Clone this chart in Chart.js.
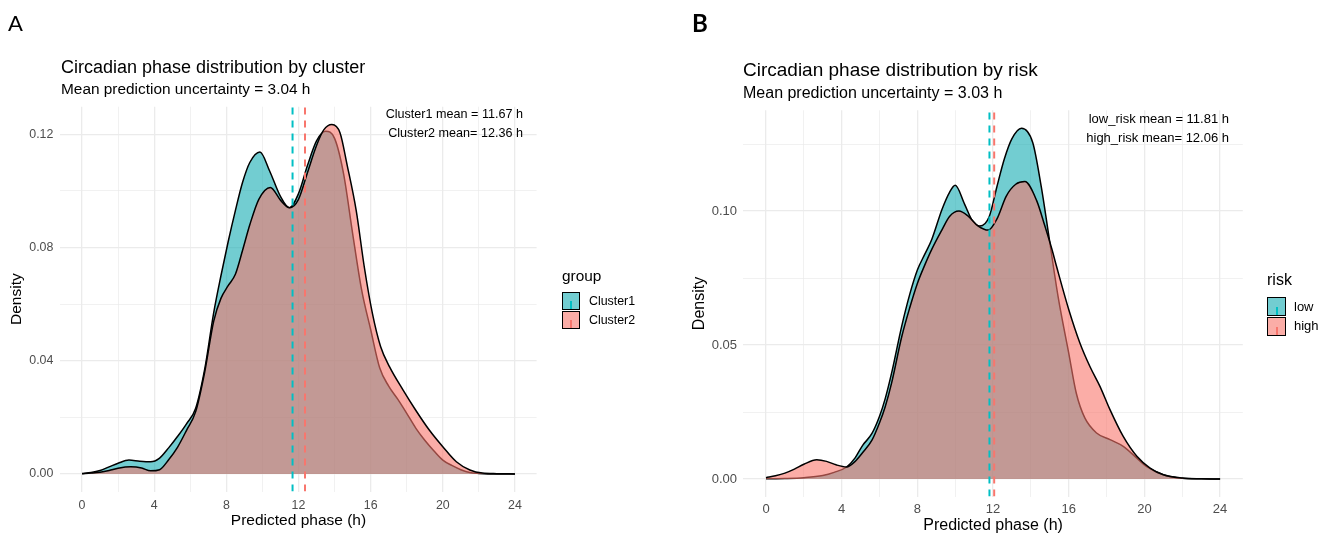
<!DOCTYPE html>
<html>
<head>
<meta charset="utf-8">
<title>Circadian phase distribution</title>
<script src="https://cdn.jsdelivr.net/npm/chart.js@4.4.1/dist/chart.umd.min.js"></script>
<style>
  body { margin: 0; background: #fff; font-family: "Liberation Sans", Arial, sans-serif; }
  #wrap { position: relative; width: 1332px; height: 538px; overflow: hidden; }
  canvas { position: absolute; top: 0; }
  .t { position: absolute; white-space: nowrap; color: #000; }
  .panel { font-family: Lato, "Open Sans", sans-serif; }
  .key { position: absolute; box-sizing: border-box; border: 1.6px solid #000; }
  .key i { position: absolute; left: 50%; width: 2px; margin-left: -1px; top: 50%; bottom: 0; }
</style>
</head>
<body>
<div id="wrap">
  <canvas id="chartA" width="660" height="538" style="left:0"></canvas>
  <canvas id="chartB" width="666" height="538" style="left:666px"></canvas>

  <!-- panel A text -->
  <div class="t panel" style="left:8px;top:11px;font-size:22px;line-height:24px">A</div>
  <div class="t" style="left:61px;top:56px;font-size:18px;line-height:22px">Circadian phase distribution by cluster</div>
  <div class="t" style="left:61px;top:79px;font-size:15.4px;line-height:20px">Mean prediction uncertainty = 3.04 h</div>
  <div class="t" style="right:809px;top:106px;font-size:12.6px;line-height:16px;text-align:right">Cluster1 mean = 11.67 h</div>
  <div class="t" style="right:809px;top:125px;font-size:12.6px;line-height:16px;text-align:right">Cluster2 mean= 12.36 h</div>
  <div class="t" style="left:562px;top:266px;font-size:15.4px;line-height:20px">group</div>
  <div class="key" style="left:562px;top:292px;width:18px;height:18px;background:rgba(20,172,178,0.6)"><i style="background:#00BFC4"></i></div>
  <div class="key" style="left:562px;top:311px;width:18px;height:18px;background:rgba(248,118,109,0.6)"><i style="background:#F8766D"></i></div>
  <div class="t" style="left:589px;top:293px;font-size:12.4px;line-height:16px">Cluster1</div>
  <div class="t" style="left:589px;top:312px;font-size:12.4px;line-height:16px">Cluster2</div>

  <!-- panel B text -->
  <div class="t panel" style="left:692px;top:10px;font-size:24px;line-height:26px;font-weight:700">B</div>
  <div class="t" style="left:743px;top:59px;font-size:19px;line-height:22px">Circadian phase distribution by risk</div>
  <div class="t" style="left:743px;top:83px;font-size:16px;line-height:20px">Mean prediction uncertainty = 3.03 h</div>
  <div class="t" style="right:103px;top:111px;font-size:13px;line-height:16px;text-align:right">low_risk mean = 11.81 h</div>
  <div class="t" style="right:103px;top:130px;font-size:13px;line-height:16px;text-align:right">high_risk mean= 12.06 h</div>
  <div class="t" style="left:1267px;top:270px;font-size:16px;line-height:20px">risk</div>
  <div class="key" style="left:1267px;top:297px;width:19px;height:19px;background:rgba(20,172,178,0.6)"><i style="background:#00BFC4"></i></div>
  <div class="key" style="left:1267px;top:317px;width:19px;height:19px;background:rgba(248,118,109,0.6)"><i style="background:#F8766D"></i></div>
  <div class="t" style="left:1294px;top:299px;font-size:13px;line-height:16px">low</div>
  <div class="t" style="left:1294px;top:318px;font-size:13px;line-height:16px">high</div>
</div>

<script>
// ---------- data ----------
const phaseTicks = [0, 4, 8, 12, 16, 20, 24];
const densityTicksA = [0, 0.04, 0.08, 0.12];
const densityTicksB = [0, 0.05, 0.10];

// panel A: by cluster
const cluster1Phase = [0, 0.5, 1, 1.5, 2, 2.6, 3.2, 3.8, 4.3, 4.8, 5.3, 5.8, 6.3, 6.8, 7.3, 7.7, 8.1, 8.5, 8.9, 9.3,
  9.86, 10.4, 11, 11.5, 12, 12.5, 13, 13.5, 14, 14.5, 15, 15.5, 16, 16.5, 17, 17.5, 18, 18.5, 19, 19.5,
  20, 20.5, 21, 21.5, 22, 23, 24];
const cluster1Density = [0.0002, 0.0005, 0.0012, 0.0025, 0.0038, 0.0049, 0.0045, 0.0043, 0.0056, 0.0092,
  0.0133, 0.0178, 0.0232, 0.037, 0.057, 0.070, 0.082, 0.093, 0.103, 0.110,
  0.1137, 0.107, 0.098, 0.094, 0.099, 0.109, 0.1176, 0.121, 0.1185, 0.106,
  0.085, 0.065, 0.051, 0.0375, 0.031, 0.0264, 0.0214, 0.0162, 0.0119, 0.0082,
  0.0049, 0.003, 0.0015, 0.0005, 0.0002, 0, 0];

const cluster2Phase = [0, 0.5, 1, 1.5, 2, 2.7, 3.3, 3.8, 4.3, 4.8, 5.3, 5.8, 6.3, 6.8, 7.3, 7.7, 8.1, 8.5, 8.9, 9.3,
  9.8, 10.44, 11, 11.5, 12, 12.5, 13, 13.4, 13.85, 14.3, 14.7, 15.2, 15.65, 16.1, 16.55, 17.05, 17.8, 18.5, 19.25, 20,
  20.75, 21.5, 22.2, 23, 24];
const cluster2Density = [0.0001, 0.0003, 0.0006, 0.0012, 0.002, 0.0025, 0.0021, 0.0011, 0.0015, 0.005,
  0.0095, 0.0155, 0.022, 0.036, 0.054, 0.062, 0.0665, 0.0705, 0.079, 0.088,
  0.097, 0.1012, 0.0967, 0.094, 0.097, 0.1065, 0.116, 0.1215, 0.1234, 0.1205,
  0.109, 0.093, 0.073, 0.0566, 0.045, 0.0378, 0.0296, 0.0225, 0.0155, 0.0096,
  0.0043, 0.0014, 0.0003, 0.0001, 0];

const clusterMeans = [11.67, 12.36];

// panel B: by risk
const lowRiskPhase = [0, 1, 2, 3, 3.6, 4.26, 4.7, 5.1, 5.6, 6, 6.3, 6.64, 7.17, 7.6, 8, 8.4, 8.76, 9.3, 9.7, 10,
  10.5, 10.9, 11.3, 11.8, 12.2, 12.6, 13, 13.5, 14.1, 14.55, 14.9, 15.44, 16, 16.4, 16.85, 17.47, 18.18, 18.88, 19.6, 20.1,
  21, 22, 23, 24];
const lowRiskDensity = [0.0001, 0.0002, 0.0005, 0.0013, 0.0025, 0.0045, 0.0078, 0.0125, 0.017, 0.0234,
  0.030, 0.0396, 0.057, 0.069, 0.078, 0.084, 0.0894, 0.1006, 0.107, 0.1096,
  0.1025, 0.0965, 0.0944, 0.098, 0.109, 0.1195, 0.127, 0.1309, 0.1255, 0.109,
  0.093, 0.068, 0.047, 0.032, 0.0228, 0.0172, 0.0147, 0.0122, 0.0078, 0.0047,
  0.0016, 0.0003, 0.0001, 0];

const highRiskPhase = [0, 0.5, 1, 1.5, 2, 2.68, 3.2, 3.7, 4.26, 4.7, 5.1, 5.6, 6, 6.3, 6.64, 7.17, 7.6, 8, 8.4, 8.76,
  9.3, 9.7, 10.2, 10.7, 11.2, 11.75, 12.2, 12.7, 13.2, 13.68, 14.3, 14.74, 15.1, 15.35, 16, 16.59, 17.12, 17.65, 18.18, 18.88,
  19.6, 20.3, 21, 22, 23, 24];
const highRiskDensity = [0.0005, 0.0012, 0.0022, 0.0037, 0.0055, 0.0072, 0.0066, 0.0053, 0.0045, 0.0065,
  0.0098, 0.0145, 0.021, 0.027, 0.0359, 0.053, 0.064, 0.073, 0.080, 0.0857,
  0.093, 0.098, 0.100, 0.098, 0.0945, 0.0929, 0.097, 0.1056, 0.110, 0.111,
  0.104, 0.0944, 0.086, 0.0795, 0.0633, 0.0508, 0.042, 0.0346, 0.0259, 0.0159,
  0.0085, 0.0041, 0.0016, 0.0004, 0.0001, 0];

const riskMeans = [11.81, 12.06];

// ---------- styles ----------
const teal = "#00BFC4", tealFill = "rgba(20,172,178,0.6)";
const red = "#F8766D", redFill = "rgba(248,118,109,0.6)";
const gridColor = "#ebebeb";
Chart.defaults.font.family = '"Liberation Sans", Arial, sans-serif';

// major ticks plus the minor ones halfway between
function withMinor(major) {
  const out = [];
  for (let i = 0; i < major.length; i++) {
    out.push(major[i]);
    if (i < major.length - 1) out.push((major[i] + major[i + 1]) / 2);
  }
  return out;
}
function isMajor(v, majors) {
  return majors.some(m => Math.abs(m - v) < 1e-9);
}

function densityChart(id, o) {
  const datasets = [];
  o.series.forEach((s, i) => {
    datasets.push({
      label: s.name,
      data: s.phase.map((x, j) => ({ x: x, y: s.density[j] })),
      borderColor: "#000",
      borderWidth: 1.5,
      backgroundColor: s.fill,
      fill: "origin",
      pointRadius: 0,
      cubicInterpolationMode: "monotone",
      order: 10 - i
    });
  });
  // dashed mean lines, drawn on top
  o.series.forEach((s, i) => {
    datasets.push({
      label: s.name + " mean",
      data: [{ x: s.mean, y: o.yMin }, { x: s.mean, y: o.yMax }],
      borderColor: s.line,
      borderWidth: 2,
      borderDash: [7, 6],
      pointRadius: 0,
      fill: false,
      order: 2 - i
    });
  });

  const xTicks = withMinor(phaseTicks);
  const yTicks = withMinor(o.yTicks);
  const step = o.yTicks[1] - o.yTicks[0];
  if (o.yMax > o.yTicks[o.yTicks.length - 1] + step / 2) {
    yTicks.push(o.yTicks[o.yTicks.length - 1] + step / 2);
  }

  return new Chart(document.getElementById(id), {
    type: "line",
    data: { datasets: datasets },
    options: {
      responsive: false,
      animation: false,
      events: [],
      layout: { padding: o.padding },
      plugins: { legend: { display: false }, tooltip: { enabled: false } },
      scales: {
        x: {
          type: "linear",
          min: -1.2,
          max: 25.2,
          afterBuildTicks: sc => { sc.ticks = xTicks.map(v => ({ value: v })); },
          afterFit: sc => { sc.height = o.xHeight; },
          border: { display: false },
          grid: {
            color: gridColor,
            drawTicks: false,
            lineWidth: c => (c.tick && isMajor(c.tick.value, phaseTicks) ? 1.3 : 0.7)
          },
          ticks: {
            autoSkip: false,
            maxRotation: 0,
            padding: o.xPad,
            color: "#4d4d4d",
            font: { size: o.tickSize },
            callback: v => (isMajor(v, phaseTicks) ? String(v) : "")
          },
          title: {
            display: true,
            text: "Predicted phase (h)",
            color: "#000",
            font: { size: o.titleSize },
            padding: { top: 0, bottom: 0 }
          }
        },
        y: {
          type: "linear",
          min: o.yMin,
          max: o.yMax,
          afterBuildTicks: sc => { sc.ticks = yTicks.map(v => ({ value: v })); },
          afterFit: sc => { sc.width = o.yWidth; },
          border: { display: false },
          grid: {
            color: gridColor,
            drawTicks: false,
            lineWidth: c => (c.tick && isMajor(c.tick.value, o.yTicks) ? 1.3 : 0.7)
          },
          ticks: {
            autoSkip: false,
            padding: o.yPad,
            color: "#4d4d4d",
            font: { size: o.tickSize },
            callback: v => (isMajor(v, o.yTicks) ? v.toFixed(2) : "")
          },
          title: {
            display: true,
            text: "Density",
            color: "#000",
            font: { size: o.titleSize },
            padding: { top: o.yTitlePad, bottom: 0 }
          }
        }
      }
    }
  });
}

densityChart("chartA", {
  series: [
    { name: "Cluster1", phase: cluster1Phase, density: cluster1Density, mean: clusterMeans[0], fill: tealFill, line: teal },
    { name: "Cluster2", phase: cluster2Phase, density: cluster2Density, mean: clusterMeans[1], fill: redFill, line: red }
  ],
  yTicks: densityTicksA,
  yMin: -0.0062,
  yMax: 0.1297,
  padding: { left: 4, right: 123.4, top: 106.7, bottom: 7.7 },
  yWidth: 56.4,
  xHeight: 38.8,
  xPad: 6.5,
  yPad: 7,
  yTitlePad: 3.5,
  tickSize: 12.4,
  titleSize: 15.5
});

densityChart("chartB", {
  series: [
    { name: "low", phase: lowRiskPhase, density: lowRiskDensity, mean: riskMeans[0], fill: tealFill, line: teal },
    { name: "high", phase: highRiskPhase, density: highRiskDensity, mean: riskMeans[1], fill: redFill, line: red }
  ],
  yTicks: densityTicksB,
  yMin: -0.00655,
  yMax: 0.1376,
  padding: { left: 20, right: 89.2, top: 110.3, bottom: 2.7 },
  yWidth: 57.3,
  xHeight: 38.7,
  xPad: 5.5,
  yPad: 6.3,
  yTitlePad: 4.1,
  tickSize: 13,
  titleSize: 16
});
</script>
</body>
</html>
